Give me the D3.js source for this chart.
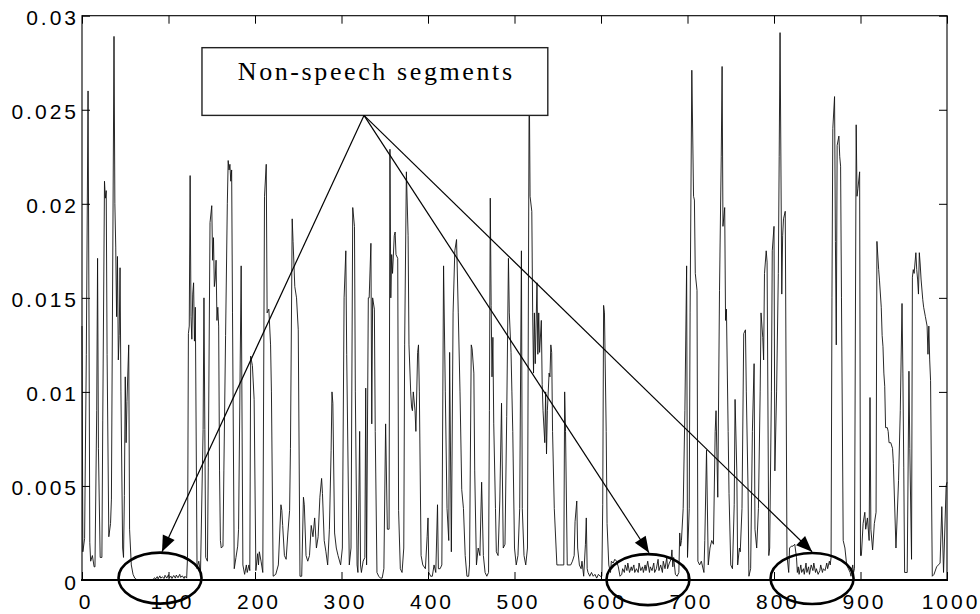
<!DOCTYPE html>
<html>
<head>
<meta charset="utf-8">
<title>Non-speech segments</title>
<style>
body { margin: 0; background: #fff; }
svg { display: block; }
.tick-label { font-family: "Liberation Sans", Arial, sans-serif; font-size: 21px; letter-spacing: 3px; fill: #000; }
.note { font-family: "Liberation Serif", "Times New Roman", serif; font-size: 26px; letter-spacing: 2.6px; fill: #000; }
</style>
<script src="https://d3js.org/d3.v7.min.js"></script>
</head>
<body>
<svg id="chart" width="980" height="614"></svg>
<script>
// tick values and labels
const xTicks = [0, 100, 200, 300, 400, 500, 600, 700, 800, 900, 1000];
const yTicks = [0, 0.005, 0.01, 0.015, 0.02, 0.025, 0.03];
const yTickLabels = ["0", "0.005", "0.01", "0.015", "0.02", "0.025", "0.03"];

// signal, [frame, value], one array per hundred frames
const sig000 = [[0,0.0135],[1,0.0015],[3,0.0022],[5,0.0120],[7,0.0260],[8,0.0150],[9,0.0020],[10,0.0010],[12,0.0013],[14,0.0007],[15,0.0007],[17,0.0090],[18,0.0171],[19,0.0070],[21,0.0012],[23,0.0012],[24,0.0085],[26,0.0212],[27,0.0203],[28,0.0207],[29,0.0120],[31,0.0023],[33,0.0030],[34,0.0043],[37,0.0289],[38,0.0200],[39,0.0177],[40,0.0140],[41,0.0172],[42,0.0117],[43,0.0130],[44,0.0166],[45,0.0100],[47,0.0017],[48,0.0012],[49,0.0045],[50,0.0108],[51,0.0073],[52,0.0095],[54,0.0125],[55,0.0027],[57,0.0008],[59,0.0003],[61,0.0001],[63,0.00003],[66,0.00002],[70,0.00001],[74,0.00002],[78,0.00001],[82,0.00003],[84,0.00012],[85,0.00005],[87,0.00018],[88,0.00006],[90,0.00022],[91,0.0001],[93,0.00016],[95,0.00008],[96,0.00025],[98,0.0001]];
const sig100 = [[100,0.00028],[101,0.00012],[103,0.0002],[104,0.00008],[106,0.00024],[108,0.0001],[109,0.00026],[111,0.00012],[113,0.0003],[114,0.00014],[116,0.00022],[118,0.00008],[119,0.0002],[121,0.0001],[122,0.0012],[123,0.0131],[124,0.0135],[125,0.0215],[126,0.0140],[127,0.0128],[128,0.0152],[129,0.0158],[130,0.0127],[131,0.0145],[133,0.0006],[135,0.0010],[137,0.0004],[140,0.0080],[141,0.0150],[142,0.0080],[143,0.0012],[145,0.0010],[146,0.0060],[148,0.0190],[150,0.0199],[151,0.0170],[152,0.0182],[153,0.0156],[154,0.0160],[155,0.0170],[156,0.0138],[157,0.0145],[158,0.0135],[159,0.0058],[160,0.0021],[161,0.0017],[163,0.0018],[164,0.0058],[166,0.0130],[168,0.0200],[169,0.0223],[170,0.0218],[171,0.0221],[172,0.0212],[173,0.0218],[174,0.0142],[176,0.0006],[178,0.0012],[180,0.0018],[181,0.0027],[184,0.0167],[186,0.0008],[188,0.0003],[190,0.0008],[191,0.0004],[193,0.0008],[194,0.0005],[195,0.0119],[197,0.0114],[199,0.0096]];
const sig200 = [[201,0.0005],[203,0.0014],[204,0.0008],[205,0.0015],[207,0.0010],[209,0.0004],[211,0.0204],[213,0.0221],[214,0.0142],[216,0.0144],[218,0.0125],[219,0.0100],[221,0.0002],[224,0.0003],[227,0.0008],[230,0.0040],[231,0.0037],[232,0.0029],[234,0.0013],[236,0.0011],[238,0.0025],[240,0.0037],[241,0.0070],[243,0.0192],[244,0.0180],[246,0.0156],[248,0.0150],[250,0.0133],[252,0.0002],[254,0.0002],[256,0.0044],[257,0.0040],[259,0.0013],[261,0.0010],[263,0.0013],[265,0.0029],[267,0.0023],[269,0.0033],[271,0.0017],[273,0.0023],[275,0.0044],[277,0.0054],[278,0.0046],[280,0.0021],[282,0.0015],[284,0.0008],[286,0.0027],[288,0.0069],[289,0.0100],[290,0.0094],[292,0.0025],[294,0.0017],[296,0.0013],[299,0.0008]];
const sig300 = [[301,0.0017],[303,0.0150],[305,0.0175],[306,0.0120],[309,0.0008],[311,0.0017],[313,0.0198],[315,0.0188],[316,0.0100],[318,0.0008],[319,0.0004],[321,0.0079],[322,0.0008],[323,0.0004],[325,0.0010],[327,0.0012],[328,0.0102],[329,0.0008],[331,0.0150],[332,0.0150],[334,0.0179],[335,0.0083],[336,0.0150],[338,0.0144],[339,0.0079],[341,0.0004],[343,0.0002],[345,0.0001],[347,0.0001],[349,0.0006],[351,0.0083],[353,0.0027],[355,0.0027],[356,0.0229],[357,0.0150],[358,0.0173],[359,0.0163],[361,0.0183],[362,0.0185],[363,0.0173],[365,0.0171],[366,0.0037],[368,0.0006],[370,0.0004],[372,0.0017],[373,0.0125],[375,0.0217],[377,0.0183],[378,0.0125],[380,0.0100],[381,0.0092],[382,0.0090],[383,0.0100],[385,0.0090],[386,0.0079],[388,0.0121],[389,0.0125],[390,0.0100],[392,0.0013],[394,0.0008],[397,0.0006],[399,0.0023]];
const sig400 = [[400,0.0033],[401,0.0004],[403,0.0002],[405,0.0002],[407,0.0008],[409,0.0004],[411,0.0040],[412,0.0006],[414,0.0006],[416,0.0008],[418,0.0167],[420,0.0100],[422,0.0038],[424,0.0021],[425,0.0121],[427,0.0015],[429,0.0142],[431,0.0175],[433,0.0181],[435,0.0142],[437,0.0100],[439,0.0048],[441,0.0038],[443,0.0013],[445,0.0002],[447,0.0002],[448,0.0008],[450,0.0125],[451,0.0123],[453,0.0110],[454,0.0058],[456,0.0008],[458,0.0017],[460,0.0013],[462,0.0052],[464,0.0013],[466,0.0004],[468,0.0002],[470,0.0004],[471,0.0090],[472,0.0203],[473,0.0146],[474,0.0108],[475,0.0129],[476,0.0083],[478,0.0038],[479,0.0015],[481,0.0013],[483,0.0042],[485,0.0094],[487,0.0017],[489,0.0019],[491,0.0087],[493,0.0171],[494,0.0142],[496,0.0121],[497,0.0100],[498,0.0079]];
const sig500 = [[500,0.0017],[502,0.0008],[504,0.0013],[506,0.0038],[508,0.0175],[509,0.0038],[511,0.0013],[513,0.0008],[515,0.0017],[517,0.0270],[518,0.0204],[520,0.0196],[521,0.0142],[522,0.0110],[523,0.0142],[524,0.0115],[526,0.0158],[527,0.0120],[528,0.0142],[529,0.0121],[531,0.0138],[532,0.0104],[533,0.0090],[535,0.0073],[536,0.0100],[537,0.0067],[538,0.0090],[540,0.0110],[541,0.0108],[542,0.0125],[543,0.0121],[544,0.0079],[546,0.0038],[549,0.0008],[552,0.0008],[555,0.0008],[557,0.0008],[558,0.0100],[559,0.0079],[561,0.0008],[563,0.0008],[565,0.0008],[567,0.0010],[569,0.0013],[570,0.0031],[572,0.0042],[573,0.0017],[575,0.0008],[577,0.0006],[578,0.0010],[580,0.0002],[582,0.0019],[583,0.0033],[584,0.0006],[585,0.0004],[587,0.0002],[589,0.0004],[591,0.0002],[593,0.0003],[595,0.0001],[597,0.0003],[599,0.0002]];
const sig600 = [[601,0.0002],[602,0.0040],[603,0.0146],[604,0.0142],[606,0.0079],[607,0.0030],[609,0.0008],[611,0.0004],[612,0.0010],[614,0.0009],[616,0.0011],[618,0.0010],[620,0.0007],[622,0.0002],[624,0.0003],[625,0.0006],[627,0.0004],[628,0.0008],[630,0.0005],[631,0.0009],[633,0.0004],[635,0.0007],[636,0.0005],[638,0.0008],[639,0.0004],[641,0.0006],[643,0.0004],[644,0.0009],[646,0.0005],[648,0.0007],[649,0.0004],[651,0.0008],[652,0.0005],[654,0.0010],[656,0.0004],[657,0.0007],[659,0.0005],[661,0.0009],[662,0.0004],[664,0.0006],[666,0.0011],[667,0.0005],[669,0.0008],[671,0.0004],[672,0.0010],[674,0.0006],[676,0.0012],[677,0.0006],[679,0.0009],[681,0.0011],[682,0.0016],[683,0.0007],[684,0.0012],[686,0.0003],[688,0.0002],[690,0.0004],[691,0.0025],[692,0.0018],[693,0.0021],[695,0.0038],[697,0.0090],[699,0.0167]];
const sig700 = [[700,0.0012],[702,0.0038],[703,0.0142],[705,0.0271],[707,0.0204],[708,0.0202],[709,0.0163],[711,0.0154],[712,0.0010],[714,0.0008],[716,0.0010],[719,0.0004],[720,0.0021],[722,0.0069],[724,0.0008],[726,0.0017],[728,0.0021],[730,0.0019],[732,0.0079],[733,0.0090],[735,0.0044],[737,0.0154],[739,0.0225],[740,0.0273],[741,0.0188],[743,0.0198],[744,0.0138],[745,0.0144],[747,0.0079],[748,0.0046],[750,0.0008],[752,0.0006],[754,0.0040],[755,0.0096],[757,0.0058],[758,0.0008],[760,0.0017],[761,0.0015],[763,0.0038],[765,0.0131],[767,0.0133],[768,0.0100],[770,0.0048],[771,0.0002],[773,0.0006],[775,0.0079],[777,0.0115],[778,0.0027],[780,0.0017],[782,0.0038],[784,0.0100],[785,0.0142],[787,0.0129],[788,0.0117],[789,0.0163],[791,0.0175],[792,0.0169],[794,0.0013],[795,0.0017],[797,0.0100],[798,0.0175]];
const sig800 = [[800,0.0188],[801,0.0058],[803,0.0100],[805,0.0163],[806,0.0225],[807,0.0291],[809,0.0152],[810,0.0183],[811,0.0192],[813,0.0196],[815,0.0013],[817,0.0004],[818,0.0017],[820,0.0018],[822,0.0018],[824,0.0019],[826,0.0012],[827,0.0004],[828,0.0007],[829,0.0003],[831,0.0008],[832,0.0004],[834,0.0006],[835,0.0003],[837,0.0009],[838,0.0004],[840,0.0007],[841,0.0003],[843,0.0008],[845,0.0005],[846,0.0009],[848,0.0004],[849,0.0006],[851,0.0003],[853,0.0005],[854,0.0008],[856,0.0004],[857,0.0006],[859,0.0005],[861,0.0009],[862,0.0006],[864,0.0010],[865,0.0008],[866,0.0012],[867,0.0150],[868,0.0240],[870,0.0257],[871,0.0180],[872,0.0125],[873,0.0231],[875,0.0236],[876,0.0225],[877,0.0220],[878,0.0150],[880,0.0021],[882,0.0017],[884,0.0008],[886,0.0006],[888,0.0004],[889,0.0002],[891,0.0008],[892,0.0004],[893,0.0006],[895,0.0242],[896,0.0204],[897,0.0208],[899,0.0217]];
const sig900 = [[900,0.0013],[901,0.0013],[903,0.0030],[905,0.0036],[906,0.0027],[908,0.0033],[910,0.0021],[911,0.0097],[912,0.0027],[914,0.0016],[916,0.0030],[918,0.0036],[919,0.0180],[921,0.0165],[922,0.0159],[924,0.0145],[925,0.0130],[926,0.0124],[927,0.0110],[928,0.0103],[929,0.0081],[931,0.0081],[932,0.0079],[933,0.0073],[935,0.0073],[937,0.0070],[938,0.0062],[941,0.0017],[944,0.0053],[946,0.0090],[948,0.0147],[949,0.0110],[950,0.0060],[951,0.0004],[954,0.0004],[956,0.0111],[957,0.0070],[959,0.0011],[960,0.0161],[961,0.0165],[962,0.0163],[964,0.0174],[965,0.0165],[966,0.0160],[967,0.0152],[968,0.0174],[969,0.0168],[970,0.0160],[972,0.0149],[973,0.0145],[975,0.0140],[977,0.0135],[978,0.0120],[979,0.0135],[980,0.0117],[981,0.0106],[983,0.0002],[985,0.0003],[988,0.0007],[990,0.0008],[992,0.0009],[994,0.0039],[996,0.0004],[999,0.0050],[1000,0.0052]];

// annotation: label, arrow start, arrow targets and circled segments (data units)
const noteText = "Non-speech segments";
const noteBox = [138.7, 0.0283, 538.5, 0.0247];
const arrowFrom = [326, 0.0247];
const arrowTargets = [[92.5, 0.0015], [655.5, 0.00145], [844, 0.0015]];
const circledSegments = [[90.2, 0.0001], [654.3, 0.00002], [844, 0.00008]];

const signal = [].concat(sig000, sig100, sig200, sig300, sig400, sig500, sig600, sig700, sig800, sig900);

const svg = d3.select("#chart");
const plotLeft = 82, plotRight = 947, plotTop = 15.7, plotBottom = 580;

const x = d3.scaleLinear().domain([0, 1000]).range([plotLeft, plotRight]);
const y = d3.scaleLinear().domain([0, 0.03]).range([plotBottom, plotTop]);

// signal
svg.append("path")
  .datum(signal)
  .attr("fill", "none")
  .attr("stroke", "#111")
  .attr("stroke-width", 0.9)
  .attr("d", d3.line().x(d => x(d[0])).y(d => y(d[1])));

// frame
svg.append("rect")
  .attr("x", plotLeft).attr("y", plotTop)
  .attr("width", plotRight - plotLeft).attr("height", plotBottom - plotTop)
  .attr("fill", "none").attr("stroke", "#000").attr("stroke-width", 1.1);
svg.append("line")
  .attr("x1", plotLeft - 1).attr("x2", plotRight + 1)
  .attr("y1", plotBottom).attr("y2", plotBottom)
  .attr("stroke", "#000").attr("stroke-width", 2.2);

// axes, ticks pointing inwards
const yLabel = d => yTickLabels[yTicks.indexOf(d)];

const gLeft = svg.append("g").attr("transform", `translate(${plotLeft},0)`)
  .call(d3.axisLeft(y).tickValues(yTicks).tickSize(-8).tickSizeOuter(0).tickPadding(3).tickFormat(yLabel));
gLeft.selectAll("text").attr("class", "tick-label").attr("dy", "0.43em");

const gBottom = svg.append("g").attr("transform", `translate(0,${plotBottom})`)
  .call(d3.axisBottom(x).tickValues(xTicks).tickSize(-8).tickSizeOuter(0).tickPadding(14).tickFormat(d3.format("d")));
gBottom.selectAll("text").attr("class", "tick-label").attr("dx", 3.5);

svg.append("g").attr("transform", `translate(0,${plotTop})`)
  .call(d3.axisTop(x).tickValues(xTicks).tickSize(-8).tickSizeOuter(0).tickFormat(""));
svg.append("g").attr("transform", `translate(${plotRight},0)`)
  .call(d3.axisRight(y).tickValues(yTicks).tickSize(-8).tickSizeOuter(0).tickFormat(""));

svg.selectAll(".domain").remove();
svg.selectAll("g").attr("font-size", null).attr("font-family", null);
svg.selectAll(".tick line").attr("stroke", "#000").attr("stroke-width", 1);

// annotation box
svg.append("rect")
  .attr("x", x(noteBox[0])).attr("y", y(noteBox[1]))
  .attr("width", x(noteBox[2]) - x(noteBox[0]))
  .attr("height", y(noteBox[3]) - y(noteBox[1]))
  .attr("fill", "#fff").attr("stroke", "#222").attr("stroke-width", 1.4);
svg.append("text")
  .attr("class", "note")
  .attr("x", (x(noteBox[0]) + x(noteBox[2])) / 2 + 1.3)
  .attr("y", y(noteBox[1]) + 32.5)
  .attr("text-anchor", "middle")
  .text(noteText);

// arrows
svg.append("defs").append("marker")
  .attr("id", "head")
  .attr("viewBox", "-17 -7 18 14")
  .attr("refX", 0).attr("refY", 0)
  .attr("markerWidth", 18).attr("markerHeight", 14)
  .attr("markerUnits", "userSpaceOnUse")
  .attr("orient", "auto")
  .append("path")
  .attr("d", "M0,0L-16,-6.5L-16,6.5Z")
  .attr("fill", "#000");

svg.selectAll(".arrow")
  .data(arrowTargets)
  .join("line")
  .attr("class", "arrow")
  .attr("x1", x(arrowFrom[0])).attr("y1", y(arrowFrom[1]))
  .attr("x2", d => x(d[0])).attr("y2", d => y(d[1]))
  .attr("stroke", "#000").attr("stroke-width", 1.2)
  .attr("marker-end", "url(#head)");

// circled non-speech segments
svg.selectAll(".ring")
  .data(circledSegments)
  .join("ellipse")
  .attr("class", "ring")
  .attr("cx", d => x(d[0])).attr("cy", d => y(d[1]))
  .attr("rx", 41.5).attr("ry", 25.5)
  .attr("fill", "none").attr("stroke", "#000").attr("stroke-width", 2.6);
</script>
</body>
</html>
